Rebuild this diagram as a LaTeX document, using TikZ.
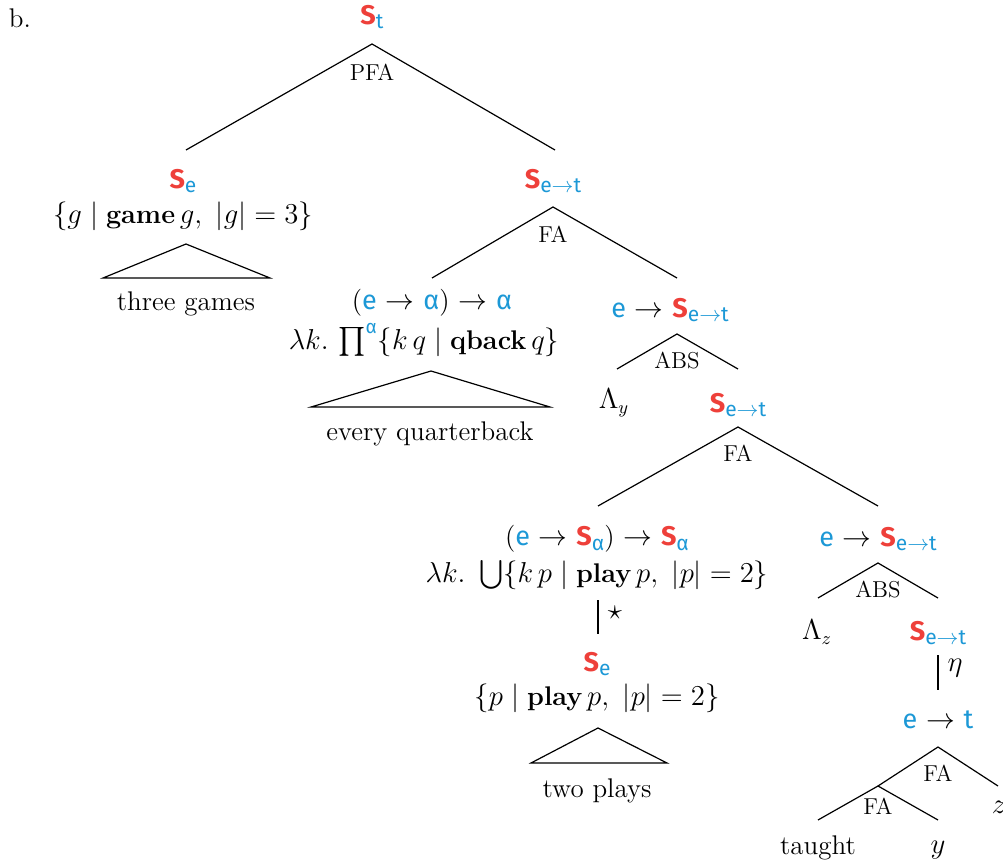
\documentclass[tikz,border=0pt]{standalone}
\usepackage{amsmath}
\usepackage{fontspec}
\newfontfamily\fira{Fira Sans}
\definecolor{tred}{RGB}{238,64,58}
\definecolor{tblue}{RGB}{28,152,214}
\newcommand\tyc[1]{\textcolor{tblue}{\fira #1}}
\newcommand\Sty[1]{\textcolor{tred}{\fira\bfseries S}\raisebox{-0.4ex}{\fontsize{10.5}{11}\selectfont\textcolor{tblue}{\fira #1}}}
\newcommand\mainsz{\fontsize{13.5}{15}\selectfont}
\newcommand\labsz{\fontsize{11.5}{13}\selectfont}
\begin{document}
\begin{tikzpicture}[x=0.5pt,y=-0.5pt,
  every node/.style={inner sep=0pt,font=\mainsz},
  lab/.style={font=\labsz},
  br/.style={line width=0.6pt},
  tri/.style={line width=0.6pt}]
\useasboundingbox (0,0) rectangle (1003,867);
\clip (0,0) rectangle (1003,867);
\node (b) at (20,18) {b.};
% root
\node (root) at (372,17) {\Sty{t}};
\coordinate (rootA) at (372,44);
\node[lab] (pfa) at (372,72) {PFA};
\coordinate (n1t) at (186,150);
\coordinate (n2t) at (555,150);
\draw[br] (n1t) -- (rootA) -- (n2t);
% left subtree
\node (n1) at (183,181) {\Sty{e}};
\node (n1d) at (183,216) {$\{g \mid \textbf{game}\,g,\ |g| = 3\}$};
\coordinate (t1a) at (186,244);
\coordinate (t1l) at (103,278);
\coordinate (t1r) at (270,278);
\draw[tri] (t1a) -- (t1l) -- (t1r) -- cycle;
\node (w1) at (186,304) {three games};
% right subtree
\node (n2) at (553,181) {\Sty{e$\to$t}};
\coordinate (n2A) at (553,207);
\node[lab] (fa1) at (553,234) {FA};
\coordinate (n3t) at (432,278);
\coordinate (n4t) at (677,278);
\draw[br] (n3t) -- (n2A) -- (n4t);
% every quarterback
\node (n3) at (432,303) {(\tyc{e} $\to$ \tyc{α}) $\to$ \tyc{α}};
\node (n3d) at (424,340) {$\lambda k.\,\prod^{\text{\tyc{α}}}\{k\,q \mid \textbf{qback}\,q\}$};
\coordinate (t2a) at (431,371);
\coordinate (t2l) at (311,407);
\coordinate (t2r) at (550,407);
\draw[tri] (t2a) -- (t2l) -- (t2r) -- cycle;
\node (w2) at (430,434) {every quarterback};
% abs y
\node (n4) at (670,310) {\tyc{e} $\to$ \Sty{e$\to$t}};
\coordinate (n4A) at (677,334);
\node[lab] (abs1) at (677,361) {ABS};
\coordinate (n5t) at (617,369);
\coordinate (n6t) at (738,369);
\draw[br] (n5t) -- (n4A) -- (n6t);
\node (n5) at (614,403) {$\Lambda_y$};
\node (n6) at (738,405) {\Sty{e$\to$t}};
\coordinate (n6A) at (738,427);
\node[lab] (fa2) at (738,453) {FA};
\coordinate (n7t) at (598,506);
\coordinate (n8t) at (878,506);
\draw[br] (n7t) -- (n6A) -- (n8t);
% two plays
\node (n7) at (597,539) {(\tyc{e} $\to$ \Sty{α}) $\to$ \Sty{α}};
\node (n7d) at (597,575) {$\lambda k.\ \bigcup\{k\,p \mid \textbf{play}\,p,\ |p| = 2\}$};
\coordinate (v1a) at (598,600);
\coordinate (v1b) at (598,634);
\draw[br] (v1a) -- (v1b);
\node (star) at (615,613) {$\star$};
\node (n9) at (597,664) {\Sty{e}};
\node (n9d) at (597,698) {$\{p \mid \textbf{play}\,p,\ |p| = 2\}$};
\coordinate (t3a) at (598,728);
\coordinate (t3l) at (531,763);
\coordinate (t3r) at (667,763);
\draw[tri] (t3a) -- (t3l) -- (t3r) -- cycle;
\node (w3) at (597,791) {two plays};
% abs z
\node (n8) at (878,539) {\tyc{e} $\to$ \Sty{e$\to$t}};
\coordinate (n8A) at (878,563);
\node[lab] (abs2) at (878,590) {ABS};
\coordinate (n10t) at (818,598);
\coordinate (n11t) at (938,598);
\draw[br] (n10t) -- (n8A) -- (n11t);
\node (n10) at (817,632) {$\Lambda_z$};
\node (n11) at (938,633) {\Sty{e$\to$t}};
\coordinate (v2a) at (938,655);
\coordinate (v2b) at (938,690);
\draw[br] (v2a) -- (v2b);
\node (eta) at (955,668) {$\eta$};
\node (n12) at (938,720) {\tyc{e} $\to$ \tyc{t}};
\coordinate (n12A) at (938,747);
\node[lab] (fa3) at (938,773) {FA};
\coordinate (n13A) at (878,786);
\coordinate (n14t) at (998,786);
\draw[br] (n13A) -- (n12A) -- (n14t);
\node (z) at (999,807) {$z$};
\node[lab] (fa4) at (878,806) {FA};
\coordinate (n15t) at (818,820);
\coordinate (n16t) at (938,820);
\draw[br] (n15t) -- (n13A) -- (n16t);
\node (w4) at (818,848) {taught};
\node (y) at (938,850) {$y$};
\end{tikzpicture}
\end{document}
